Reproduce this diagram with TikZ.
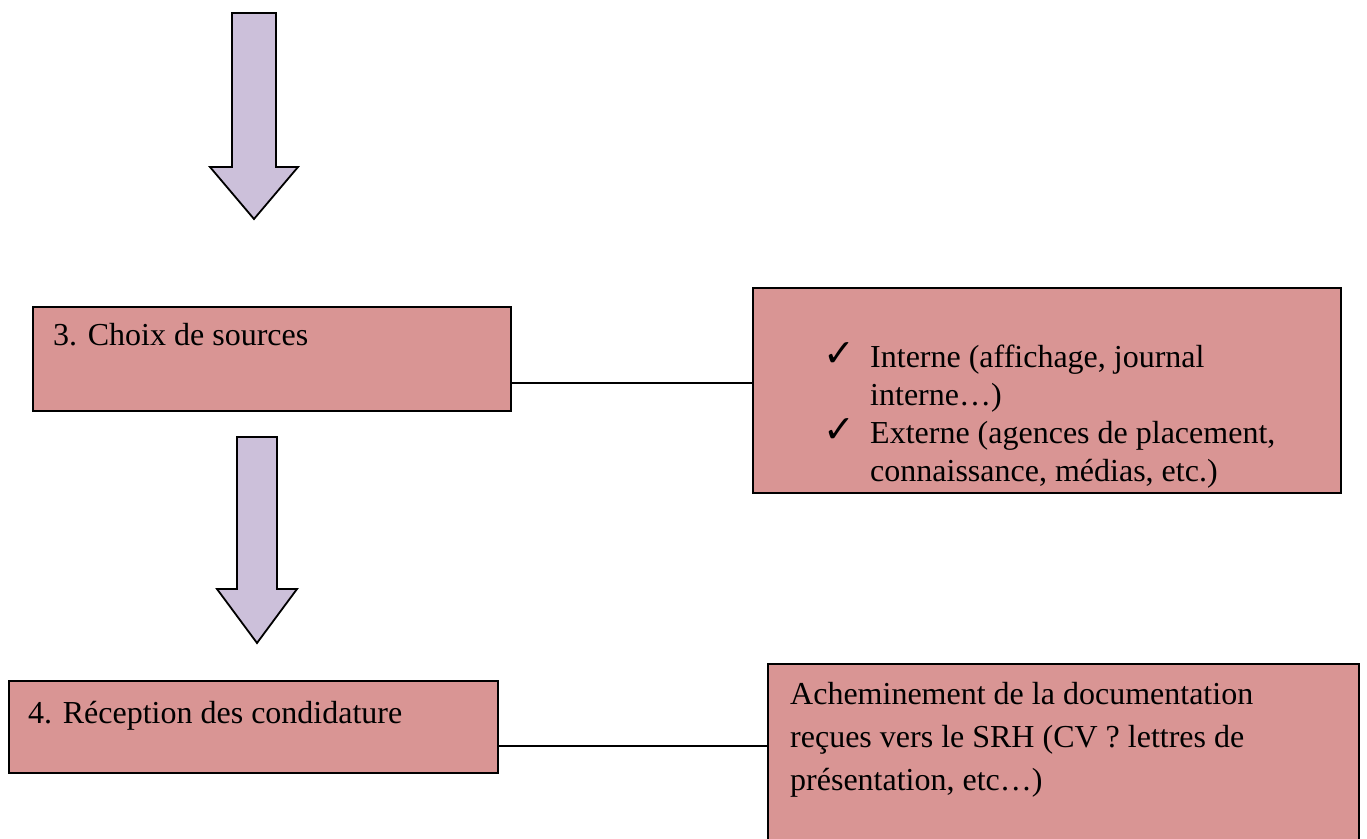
\documentclass[tikz,border=0pt]{standalone}
\usepackage{fontspec}
\setmainfont{Liberation Serif}
\newfontfamily\symfont{DejaVu Sans}
\definecolor{boxfill}{HTML}{D99594}
\definecolor{arrowfill}{HTML}{CCC0DA}
\begin{document}
\begin{tikzpicture}[x=1pt,y=-1pt,
  box/.style={draw=black, line width=2pt, fill=boxfill, inner sep=0pt, outer sep=0pt, anchor=north west},
  openbox/.style={fill=boxfill, inner sep=0pt, outer sep=0pt, anchor=north west},
  txt/.style={inner sep=0pt, anchor=base west, font=\fontsize{32}{38}\selectfont},
  chk/.style={inner sep=0pt, anchor=base west, font=\symfont\fontsize{38}{40}\selectfont},
  bigarrow/.style={draw=black, line width=1.8pt, fill=arrowfill, line join=miter},
  conn/.style={draw=black, line width=1.5pt}]
\useasboundingbox (0,0) rectangle (1367,838);
% arrows
\draw[bigarrow] (232,13) -- (276,13) -- (276,167) -- (298,167) -- (254,219) -- (210,167) -- (232,167) -- cycle;
\draw[bigarrow] (237,437) -- (277,437) -- (277,589) -- (297,589) -- (257,643) -- (217,589) -- (237,589) -- cycle;
% boxes
\node[box, minimum width=478pt, minimum height=104pt] (b1) at (33,307) {};
\node[box, minimum width=588pt, minimum height=205pt] (b2) at (753,288) {};
\node[box, minimum width=489pt, minimum height=92pt] (b3) at (9,681) {};
\node[openbox, minimum width=591pt, minimum height=176pt] (b4) at (768,664) {};
\draw[line width=2pt] (b4.south west) |- (b4.north east) -- (b4.south east);
% connectors
\coordinate (l1) at (0,383);
\coordinate (l2) at (0,746);
\draw[conn] (b1.east |- l1) -- (b2.west |- l1);
\draw[conn] (b3.east |- l2) -- (b4.west |- l2);
% texts
\node[txt] (t1) at (53,345) {3. Choix de sources};
\node[txt] (t3) at (28,723) {4. Réception des condidature};
\node[chk] (c1) at (823,366) {✓};
\node[txt] (t2a) at (870,367) {Interne (affichage, journal};
\node[txt] (t2b) at (870,405) {interne…)};
\node[chk] (c2) at (823,442) {✓};
\node[txt] (t2c) at (870,443) {Externe (agences de placement,};
\node[txt] (t2d) at (870,481) {connaissance, médias, etc.)};
\node[txt] (t4a) at (790,704) {Acheminement de la documentation};
\node[txt] (t4b) at (790,747) {reçues vers le SRH (CV ? lettres de};
\node[txt] (t4c) at (790,790) {présentation, etc…)};
\end{tikzpicture}
\end{document}
